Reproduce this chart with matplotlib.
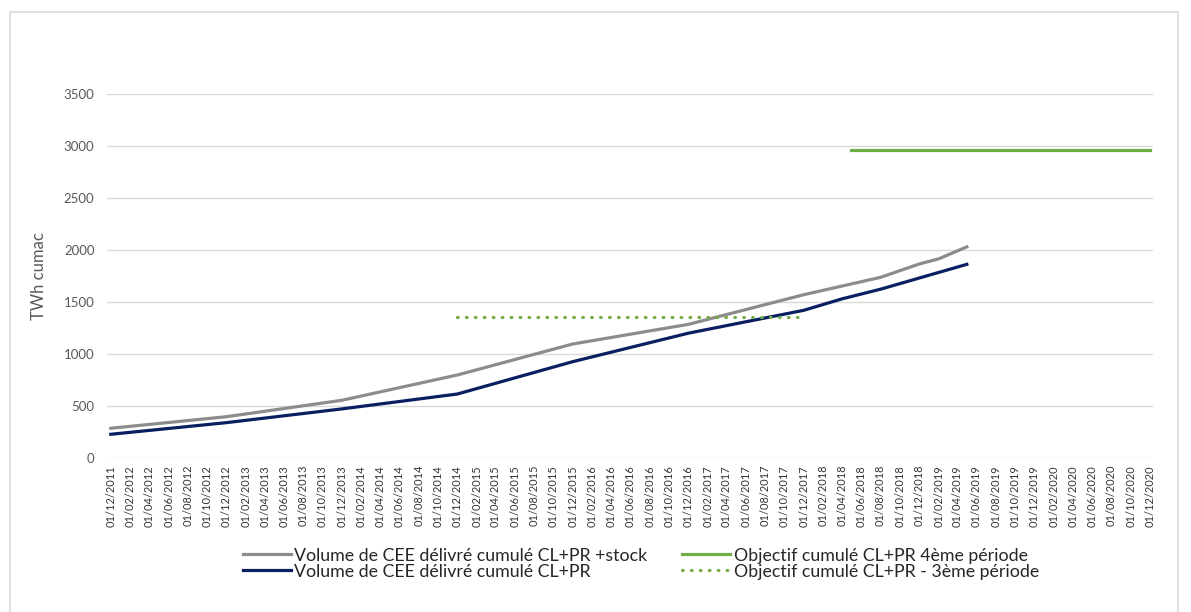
import matplotlib
matplotlib.use("Agg")
import matplotlib.pyplot as plt
import pandas as pd
from matplotlib.patches import Rectangle

plt.rcParams['font.family'] = ['Lato', 'DejaVu Sans']

# Data
stock_dates = ['2011-12-01', '2012-12-01', '2013-12-01', '2014-12-01', '2015-12-01',
               '2016-12-01', '2017-12-01', '2018-08-01', '2018-12-01', '2019-02-01', '2019-05-01']
stock_values = [286, 397, 555, 798, 1096, 1285, 1570, 1737, 1865, 1915, 2030]

cee_dates = ['2011-12-01', '2012-12-01', '2013-12-01', '2014-12-01', '2015-12-01',
             '2016-12-01', '2017-12-01', '2018-04-01', '2018-08-01', '2018-12-01', '2019-05-01']
cee_values = [228, 340, 472, 615, 926, 1200, 1420, 1530, 1623, 1730, 1862]

obj4_dates = ['2018-05-01', '2020-12-01']
obj4_values = [2960, 2960]

obj3_dates = ['2014-12-01', '2017-12-01']
obj3_values = [1355, 1355]

tick_dates = pd.date_range('2011-12-01', '2020-12-01', freq='2MS')
tick_labels = [d.strftime('%d/%m/%Y') for d in tick_dates]

labels = ['Volume de CEE délivré cumulé CL+PR +stock',
          'Volume de CEE délivré cumulé CL+PR',
          'Objectif cumulé CL+PR 4ème période',
          'Objectif cumulé CL+PR - 3ème période']

fig = plt.figure(figsize=(11.91, 6.12), dpi=100)
fig.patches.append(Rectangle((10/1191, -0.1), 1168/1191, 1 - 12/612 + 0.1,
                             transform=fig.transFigure, fill=False,
                             edgecolor='#d9d9d9', linewidth=1.2))
ax = fig.add_axes([107/1191, 1 - 458/612, (1153 - 107)/1191, (458 - 94)/612])

l1, = ax.plot(pd.to_datetime(stock_dates), stock_values, color='#8c8c8c', lw=2.3, label=labels[0])
l2, = ax.plot(pd.to_datetime(cee_dates), cee_values, color='#0a1f62', lw=2.3, label=labels[1])
l3, = ax.plot(pd.to_datetime(obj4_dates), obj4_values, color='#70ad47', lw=2.3, label=labels[2])
l4, = ax.plot(pd.to_datetime(obj3_dates), obj3_values, color='#70ad47', lw=2.3,
              linestyle=(0, (0.2, 2.6)), dash_capstyle='round', label=labels[3])

ax.set_ylim(0, 3500)
ax.set_yticks(range(0, 3501, 500))
ax.set_xlim(pd.Timestamp('2011-12-01') - pd.Timedelta(days=12),
            pd.Timestamp('2020-12-01') + pd.Timedelta(days=9))
ax.set_xticks(tick_dates)
ax.set_xticklabels(tick_labels, rotation=90, fontsize=7.9, color='#333333')
ax.tick_params(axis='both', length=0)
ax.tick_params(axis='y', labelsize=9.5, labelcolor='#595959', pad=9)
ax.tick_params(axis='x', pad=5)
ax.grid(axis='y', color='#d9d9d9', lw=1)
ax.set_axisbelow(True)
for s in ax.spines.values():
    s.set_visible(False)

ax.set_ylabel('TWh cumac', fontsize=12, color='#595959', labelpad=12)

fig.legend(handles=[l1, l2, l3, l4], loc='center', bbox_to_anchor=(0.538, 0.079),
           ncol=2, frameon=False, fontsize=12.8, handlelength=2.7, handletextpad=0.18,
           columnspacing=2.0, labelspacing=0.0, labelcolor='#262626')

fig.savefig('out.png', dpi=100)
